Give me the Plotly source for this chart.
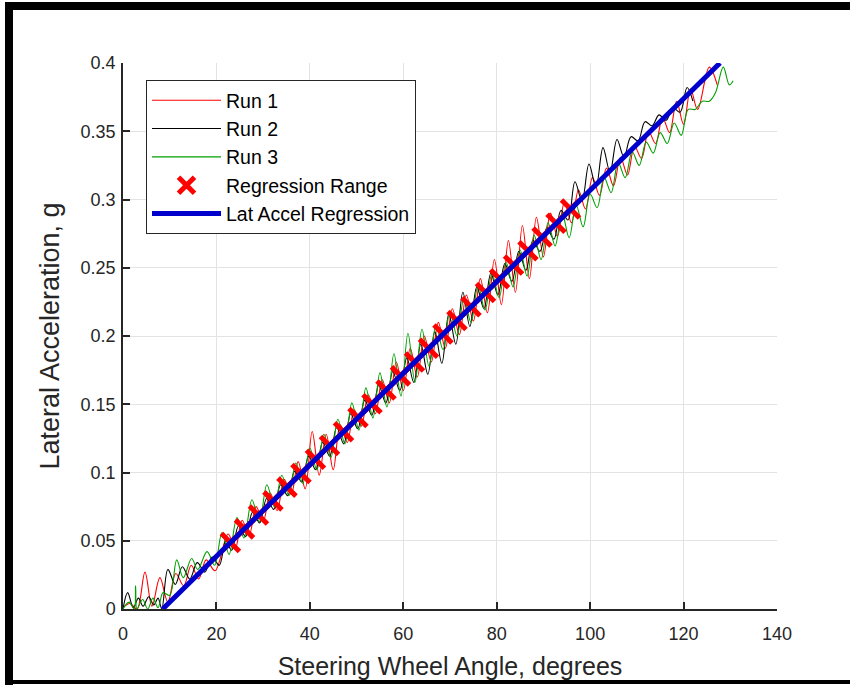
import plotly.graph_objects as go

# ---------------- data ----------------
run1_x = [0.0, 1.5, 3.0, 4.7, 6.2, 7.9, 9.6, 11.3, 13.0, 14.6, 16.2, 17.8, 19.7,
          22.5, 24.0, 25.5, 27.0, 28.5, 30.0, 31.5, 33.0, 34.5, 36.0, 37.5, 39.0,
          40.5, 42.0, 43.5, 45.0, 46.5, 48.0, 49.5, 51.0, 52.5, 54.0, 55.5, 57.0,
          58.5, 60.0, 61.5, 63.0, 64.5, 66.0, 67.5, 69.0, 70.5, 72.0, 73.5, 75.0,
          76.5, 78.0, 79.5, 81.0, 82.5, 84.0, 85.5, 87.0, 88.5, 90.0, 91.5, 93.0,
          94.5, 96.0, 97.5, 99.0, 100.5, 102.0, 103.5, 105.0, 106.5, 108.0, 109.5,
          111.0, 112.5, 114.0, 115.5, 117.0, 118.5, 120.0, 121.5, 123.0, 125.5, 127.2]
run1_y = [0.001, 0.004, 0.0, 0.027, 0.002, 0.023, 0.005, 0.026, 0.017, 0.032, 0.022, 0.036, 0.028,
          0.055, 0.044, 0.065, 0.054, 0.075, 0.064, 0.085, 0.072, 0.095, 0.084, 0.108, 0.088,
          0.130, 0.098, 0.128, 0.102, 0.135, 0.122, 0.146, 0.134, 0.157, 0.143, 0.168, 0.151,
          0.181, 0.160, 0.191, 0.170, 0.200, 0.181, 0.210, 0.191, 0.220, 0.201, 0.230, 0.211,
          0.242, 0.217, 0.256, 0.223, 0.270, 0.232, 0.281, 0.242, 0.287, 0.258, 0.290, 0.273,
          0.298, 0.283, 0.307, 0.293, 0.316, 0.303, 0.323, 0.310, 0.331, 0.318, 0.339,
          0.330, 0.350, 0.341, 0.360, 0.349, 0.372, 0.355, 0.381, 0.366, 0.397, 0.384]

run2_x = [0.0, 1.0, 2.2, 3.3, 4.3, 5.5, 6.6, 7.5, 8.3, 9.6, 11.2, 12.7, 14.3, 15.9, 17.5,
          19.1, 20.6, 22.0, 23.25, 24.75, 26.25, 27.75, 29.25, 30.75, 32.25, 33.75,
          35.25, 36.75, 38.25, 39.75, 41.25, 42.75, 44.25, 45.75, 47.25, 48.75, 50.25,
          51.75, 53.25, 54.75, 56.25, 57.75, 59.25, 60.75, 62.25, 63.75, 65.25, 66.75,
          68.25, 69.75, 71.25, 72.75, 74.25, 75.75, 77.25, 78.75, 80.25, 81.75, 83.25,
          84.75, 86.25, 87.75, 89.25, 90.75, 92.25, 93.75, 95.25, 96.75, 98.25, 99.75,
          101.25, 102.75, 104.25, 105.75, 107.25, 108.75, 110.25, 111.75, 113.25,
          114.75, 116.25, 117.75, 119.25, 120.75, 122.0]
run2_y = [0.0, 0.012, 0.001, 0.008, 0.002, 0.009, 0.003, 0.008, 0.0, 0.029, 0.018, 0.031, 0.022, 0.034, 0.027,
          0.038, 0.032, 0.050, 0.043, 0.061, 0.053, 0.071, 0.063, 0.081, 0.073, 0.091,
          0.083, 0.101, 0.093, 0.112, 0.102, 0.122, 0.112, 0.133, 0.121, 0.143, 0.132,
          0.153, 0.142, 0.164, 0.151, 0.174, 0.160, 0.184, 0.166, 0.194, 0.172, 0.203,
          0.180, 0.216, 0.194, 0.232, 0.207, 0.236, 0.220, 0.246, 0.230, 0.253, 0.240,
          0.262, 0.248, 0.270, 0.262, 0.279, 0.271, 0.292, 0.285, 0.313, 0.299, 0.326,
          0.309, 0.338, 0.320, 0.344, 0.331, 0.346, 0.343, 0.357, 0.354,
          0.362, 0.358, 0.367, 0.364, 0.382, 0.372]

run3_x = [0.0, 1.3, 2.4, 2.7, 3.0, 4.2, 5.3, 6.4, 7.5, 8.6, 10.0, 11.5, 12.9, 14.7, 16.0,
          18.0, 19.6, 21.2, 22.7, 24.4, 25.9, 27.6, 29.2, 30.8, 32.4, 34.0, 35.5,
          37.0, 38.5, 40.0, 41.5, 43.0, 44.5, 46.0, 47.5, 49.0, 50.5, 52.0, 53.5,
          55.0, 56.5, 58.0, 59.5, 61.0, 62.5, 64.0, 65.5, 67.0, 68.5, 70.0, 71.5,
          73.0, 74.5, 76.0, 77.5, 79.0, 80.5, 82.0, 83.5, 85.0, 86.5, 88.0, 89.5,
          91.0, 92.5, 94.0, 95.5, 97.0, 98.5, 100.0, 101.5, 103.0, 104.5, 106.0,
          107.5, 109.0, 110.5, 112.0, 113.5, 115.0, 116.5, 118.0, 119.5, 121.0,
          122.5, 124.0, 125.5, 126.8, 128.5, 129.8, 130.6]
run3_y = [0.0, 0.005, 0.0, 0.017, 0.0, 0.007, 0.0, 0.008, 0.001, 0.012, 0.010, 0.036, 0.023, 0.037, 0.029,
          0.042, 0.032, 0.056, 0.040, 0.067, 0.052, 0.080, 0.064, 0.091, 0.075, 0.098, 0.083,
          0.107, 0.092, 0.118, 0.102, 0.128, 0.111, 0.139, 0.121, 0.151, 0.131, 0.162, 0.140,
          0.173, 0.148, 0.187, 0.156, 0.202, 0.166, 0.205, 0.178, 0.208, 0.190, 0.218, 0.200,
          0.228, 0.210, 0.237, 0.219, 0.246, 0.228, 0.254, 0.236, 0.263, 0.244, 0.274, 0.256,
          0.283, 0.266, 0.290, 0.272, 0.296, 0.280, 0.304, 0.294, 0.316, 0.305, 0.327,
          0.316, 0.335, 0.325, 0.342, 0.334, 0.349, 0.341, 0.356, 0.347, 0.366,
          0.366, 0.372, 0.372, 0.378, 0.397, 0.384, 0.387]

range_x = [23.0, 26.0, 29.0, 32.1, 35.1, 38.1, 41.2, 44.2, 47.2, 50.3, 53.3, 56.3, 59.4,
           62.4, 65.4, 68.5, 71.5, 74.5, 77.6, 80.6, 83.6, 86.7, 89.7, 92.7, 95.8]
range_y = [0.0487, 0.0587, 0.0688, 0.0792, 0.0893, 0.0993, 0.1097, 0.1198, 0.1299, 0.1403,
           0.1503, 0.1604, 0.1708, 0.1809, 0.1910, 0.2014, 0.2114, 0.2215, 0.2319, 0.2420,
           0.2520, 0.2624, 0.2725, 0.2826, 0.2930]

reg_x = [8.5, 127.8]
reg_y = [0.0, 0.4]

x_ticks = [0, 20, 40, 60, 80, 100, 120, 140]
y_ticks = [0, 0.05, 0.1, 0.15, 0.2, 0.25, 0.3, 0.35, 0.4]
y_tick_text = ["0", "0.05", "0.1", "0.15", "0.2", "0.25", "0.3", "0.35", "0.4"]

# ---------------- figure ----------------
FONT = "Liberation Sans"
TXT = "#262626"

fig = go.Figure()
fig.add_trace(go.Scatter(x=run1_x, y=run1_y, mode="lines", name="Run 1",
                         line=dict(color="#ff0000", width=1.1, shape="spline", smoothing=1.0),
                         legendgroup="a"))
fig.add_trace(go.Scatter(x=run2_x, y=run2_y, mode="lines", name="Run 2",
                         line=dict(color="#000000", width=1.1, shape="spline", smoothing=1.0),
                         legendgroup="b"))
fig.add_trace(go.Scatter(x=run3_x, y=run3_y, mode="lines", name="Run 3",
                         line=dict(color="#00a000", width=1.1, shape="spline", smoothing=1.0),
                         legendgroup="c"))
fig.add_trace(go.Scatter(x=range_x, y=range_y, mode="markers", name="Regression Range",
                         marker=dict(symbol="x-thin", size=18, color="#ff0000",
                                     line=dict(color="#ff0000", width=5)),
                         legendgroup="d"))
fig.add_trace(go.Scatter(x=reg_x, y=reg_y, mode="lines", name="Lat Accel Regression",
                         line=dict(color="#0000cd", width=5),
                         legendgroup="e"))

W, H = 850, 685
L, R, T, B = 123, 73, 63, 76
pw, ph = W - L - R, H - T - B


def px(xp):
    return (xp - L) / pw


def py(yp):
    return (H - B - yp) / ph


frame = dict(type="rect", xref="paper", yref="paper", fillcolor="#000000",
             line=dict(width=0), layer="above")
shapes = [
    dict(frame, x0=px(5), x1=px(851), y0=py(10), y1=py(2)),     # top band
    dict(frame, x0=px(5), x1=px(13), y0=py(686), y1=py(2)),     # left band
    dict(frame, x0=px(5), x1=px(851), y0=py(684), y1=py(680)),  # bottom line
]

axis_common = dict(
    showline=True, linecolor=TXT, linewidth=1.5,
    ticks="inside", ticklen=7, tickwidth=1.5, tickcolor=TXT,
    showgrid=True, gridcolor="#e3e3e3", gridwidth=1,
    zeroline=False, mirror=False,
    tickfont=dict(family=FONT, size=18, color=TXT),
)

fig.update_layout(
    width=W, height=H,
    margin=dict(l=L, r=R, t=T, b=B, autoexpand=False),
    paper_bgcolor="white", plot_bgcolor="white",
    font=dict(family=FONT, color=TXT),
    xaxis=dict(axis_common, range=[0, 140], tickvals=x_ticks, ticklabelstandoff=8,
               title=dict(text="Steering Wheel Angle, degrees",
                          font=dict(family=FONT, size=25, color=TXT), standoff=14)),
    yaxis=dict(axis_common, range=[0, 0.4], tickvals=y_ticks, ticktext=y_tick_text,
               ticklabelstandoff=2,
               title=dict(text="Lateral Acceleration, g",
                          font=dict(family=FONT, size=27, color=TXT), standoff=13)),
    legend=dict(x=px(146), y=py(80), xanchor="left", yanchor="top",
                bgcolor="white", bordercolor=TXT, borderwidth=1,
                font=dict(family=FONT, size=19.5, color="#000000"),
                traceorder="grouped", tracegroupgap=0, itemwidth=69),
    shapes=shapes,
    showlegend=True,
)

fig.write_html("out.html")
